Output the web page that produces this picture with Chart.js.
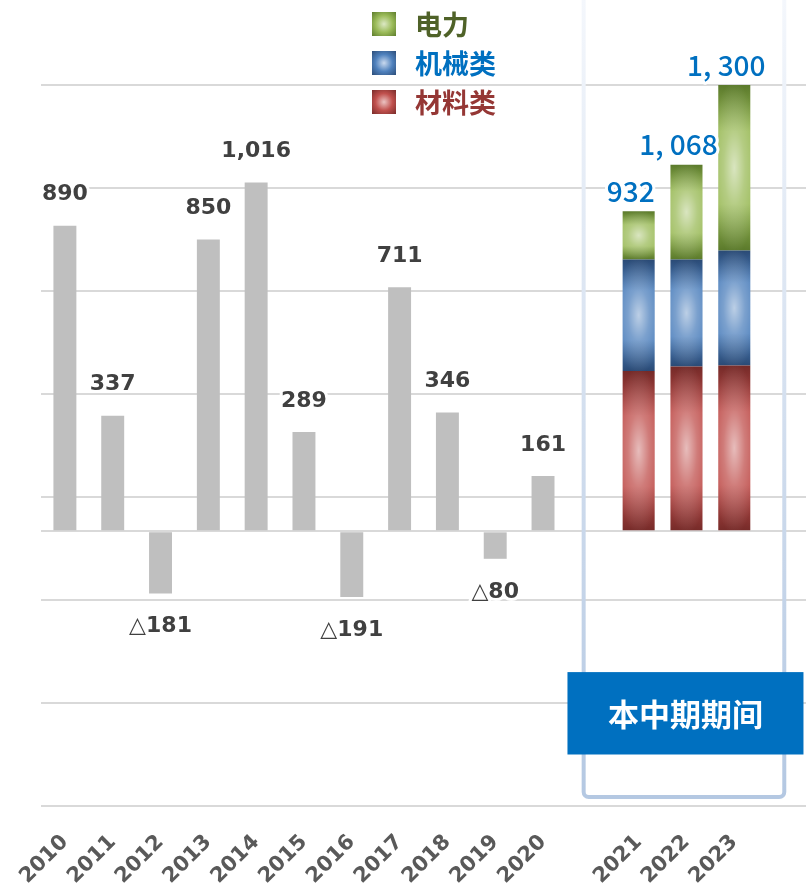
<!DOCTYPE html>
<html>
<head>
<meta charset="utf-8">
<script src="https://cdn.jsdelivr.net/npm/chart.js@4.4.1/dist/chart.umd.min.js"></script>
<style>
  html, body { margin: 0; padding: 0; background: #fff; }
</style>
</head>
<body>
<canvas id="grafico" width="806" height="891"></canvas>
<script>
const anios = ["2010", "2011", "2012", "2013", "2014", "2015", "2016", "2017", "2018", "2019", "2020", "", "2021", "2022", "2023", ""];
const resultados = [890, 337, -181, 850, 1016, 289, -191, 711, 346, -80, 161, null, null, null, null, null];
const materiales = [null, null, null, null, null, null, null, null, null, null, null, null, 467, 480, 483, null];
const maquinaria = [null, null, null, null, null, null, null, null, null, null, null, null, 325, 312, 335, null];
const energia = [null, null, null, null, null, null, null, null, null, null, null, null, 140, 276, 482, null];
const totales = [null, null, null, null, null, null, null, null, null, null, null, null, 932, 1068, 1300, null];
const marcasY = [-800, -500, -200, 0, 100, 400, 700, 1000, 1300];
const etiquetaPeriodo = "本中期期间";

const canvas = document.querySelector("#grafico");

const colores = {
  "电力": { base: "#9BBB59", oscuro: "#5B7A2B", claro: "#DCE8C4", texto: "#4F6228" },
  "机械类": { base: "#4F81BD", oscuro: "#2A4A75", claro: "#C9D9EE", texto: "#0070C0" },
  "材料类": { base: "#C0504D", oscuro: "#752A28", claro: "#EBC3C2", texto: "#953735" }
};

// suma de las series apiladas debajo de una serie
const apiladas = [materiales, maquinaria, energia];
const baseApilada = (serie, i) => {
  let suma = 0;
  for (const s of apiladas) {
    if (s === serie) break;
    suma += s[i] || 0;
  }
  return suma;
};

const degradado = (nombre, serie) => (ctx) => {
  const c = colores[nombre];
  if (ctx.type !== "data" || serie[ctx.dataIndex] == null) return c.base;
  const y = ctx.chart.scales.y;
  if (!y) return c.base;
  const ini = baseApilada(serie, ctx.dataIndex);
  const top = y.getPixelForValue(ini + serie[ctx.dataIndex]);
  const bot = y.getPixelForValue(ini);
  const g = ctx.chart.ctx.createLinearGradient(0, top, 0, bot);
  g.addColorStop(0, c.oscuro);
  g.addColorStop(0.28, c.base);
  g.addColorStop(0.72, c.base);
  g.addColorStop(1, c.oscuro);
  return g;
};

const formatoGris = (v) => Math.abs(v).toLocaleString("en-US");
const formatoTotal = (v) => v.toLocaleString("en-US").replace(",", ", ");

const textoConHalo = (ctx, texto, x, y) => {
  ctx.lineJoin = "round";
  ctx.lineWidth = 6;
  ctx.strokeStyle = "rgba(255,255,255,0.95)";
  ctx.strokeText(texto, x, y);
  ctx.fillText(texto, x, y);
};

const marcoPeriodo = {
  id: "marcoPeriodo",
  beforeDatasetsDraw(chart) {
    const { ctx, scales: { x }, chartArea } = chart;
    const izq = x.getPixelForValue(12) - 55;
    const der = x.getPixelForValue(14) + 50;
    const abajo = chartArea.bottom - 9;
    const g = ctx.createLinearGradient(0, 0, 0, abajo);
    g.addColorStop(0, "#F4F7FC");
    g.addColorStop(1, "#B4C8E2");
    ctx.save();
    ctx.strokeStyle = g;
    ctx.lineWidth = 4;
    ctx.beginPath();
    ctx.roundRect(izq, -10, der - izq, abajo + 10, 5);
    ctx.stroke();
    ctx.restore();
  },
  afterDraw(chart) {
    const { ctx, scales: { x, y } } = chart;
    const cx = x.getPixelForValue(13) - 1;
    const arriba = y.getPixelForValue(-410);
    const abajo = y.getPixelForValue(-650);
    ctx.save();
    ctx.fillStyle = "#0070C0";
    ctx.fillRect(cx - 118, arriba, 236, abajo - arriba);
    ctx.fillStyle = "#FFFFFF";
    ctx.font = "bold 31px 'Noto Sans CJK SC'";
    ctx.textAlign = "center";
    ctx.textBaseline = "middle";
    ctx.fillText(etiquetaPeriodo, cx, (arriba + abajo) / 2 + 1);
    ctx.restore();
  }
};

const brilloYEtiquetas = {
  id: "brilloYEtiquetas",
  afterDatasetsDraw(chart) {
    const ctx = chart.ctx;
    ctx.save();
    // brillo radial en las barras apiladas
    for (let d = 1; d <= 3; d++) {
      chart.getDatasetMeta(d).data.forEach((el, i) => {
        if (chart.data.datasets[d].data[i] == null) return;
        const { x, y, base, width } = el.getProps(["x", "y", "base", "width"], true);
        const top = Math.min(y, base), h = Math.abs(base - y);
        const cy = top + h / 2;
        ctx.save();
        ctx.beginPath();
        ctx.rect(x - width / 2, top, width, h);
        ctx.clip();
        ctx.translate(x, cy);
        ctx.scale(1, Math.max(h / width * 0.7, 0.7));
        const r = width * 0.75;
        const g = ctx.createRadialGradient(0, 0, 0, 0, 0, r);
        g.addColorStop(0, "rgba(255,255,255,0.62)");
        g.addColorStop(0.45, "rgba(255,255,255,0.25)");
        g.addColorStop(1, "rgba(255,255,255,0)");
        ctx.fillStyle = g;
        ctx.fillRect(-r, -r, 2 * r, 2 * r);
        ctx.restore();
      });
    }
    // valores de las barras grises
    ctx.textBaseline = "middle";
    ctx.fillStyle = "#404040";
    chart.getDatasetMeta(0).data.forEach((el, i) => {
      const v = resultados[i];
      if (v == null) return;
      const num = formatoGris(v);
      if (v >= 0) {
        ctx.font = "bold 22px 'DejaVu Sans'";
        ctx.textAlign = "center";
        textoConHalo(ctx, num, el.x, el.y - 31);
      } else {
        ctx.font = "22px 'DejaVu Sans'";
        const wTri = ctx.measureText("△").width;
        ctx.font = "bold 22px 'DejaVu Sans'";
        const wNum = ctx.measureText(num).width;
        const x0 = el.x - (wTri + wNum) / 2;
        ctx.textAlign = "left";
        ctx.font = "22px 'DejaVu Sans'";
        textoConHalo(ctx, "△", x0, el.y + 33);
        ctx.font = "bold 22px 'DejaVu Sans'";
        textoConHalo(ctx, num, x0 + wTri, el.y + 33);
      }
    });
    // totales del periodo
    ctx.textAlign = "center";
    ctx.fillStyle = "#0070C0";
    ctx.font = "500 28px 'Noto Sans CJK SC'";
    chart.getDatasetMeta(3).data.forEach((el, i) => {
      if (totales[i] == null) return;
      textoConHalo(ctx, formatoTotal(totales[i]), el.x - 8, el.y - 20);
    });
    ctx.restore();
  },
  afterDraw(chart) {
    // leyenda
    const ctx = chart.ctx;
    ctx.save();
    const items = [3, 2, 1].map((d) => chart.data.datasets[d].label);
    items.forEach((nombre, k) => {
      const c = colores[nombre];
      const sx = 372, sy = 12 + k * 39, s = 24;
      const g = ctx.createRadialGradient(sx + s / 2, sy + s / 2, 0, sx + s / 2, sy + s / 2, s * 0.72);
      g.addColorStop(0, c.claro);
      g.addColorStop(0.5, c.base);
      g.addColorStop(1, c.oscuro);
      ctx.fillStyle = g;
      ctx.fillRect(sx, sy, s, s);
      ctx.fillStyle = c.texto;
      ctx.font = "bold 27px 'Noto Sans CJK SC'";
      ctx.textAlign = "left";
      ctx.textBaseline = "middle";
      ctx.fillText(nombre, 415, sy + s / 2 + 1);
    });
    ctx.restore();
  }
};

const datasets = [
  {
    label: "实绩",
    data: resultados,
    backgroundColor: "#BFBFBF",
    barPercentage: 0.48,
    categoryPercentage: 1
  },
  {
    label: "材料类",
    data: materiales,
    backgroundColor: degradado("材料类", materiales),
    barPercentage: 0.67,
    categoryPercentage: 1
  },
  {
    label: "机械类",
    data: maquinaria,
    backgroundColor: degradado("机械类", maquinaria),
    barPercentage: 0.67,
    categoryPercentage: 1
  },
  {
    label: "电力",
    data: energia,
    backgroundColor: degradado("电力", energia),
    barPercentage: 0.67,
    categoryPercentage: 1
  }
];

const config = {
  type: "bar",
  data: { labels: anios, datasets },
  options: {
    responsive: false,
    animation: false,
    events: [],
    layout: { padding: { top: 85, left: 0, right: 0, bottom: 0 } },
    plugins: { legend: { display: false }, tooltip: { enabled: false } },
    scales: {
      x: {
        stacked: true,
        grid: { display: false },
        border: { display: false },
        ticks: {
          autoSkip: false,
          maxRotation: 45,
          minRotation: 45,
          color: "#595959",
          padding: 16,
          font: { family: "DejaVu Sans", weight: "bold", size: 21 }
        },
        afterFit: (s) => {
          s.height = 85;
          s.paddingLeft = 0;
          s.paddingRight = 0;
        }
      },
      y: {
        stacked: true,
        min: -800,
        max: 1300,
        border: { display: false },
        grid: { color: "#D9D9D9", lineWidth: 2, drawTicks: false },
        ticks: { display: false },
        afterBuildTicks: (s) => { s.ticks = marcasY.map((v) => ({ value: v })); },
        afterFit: (s) => { s.width = 41; }
      }
    }
  },
  plugins: [marcoPeriodo, brilloYEtiquetas]
};

const myChart = new Chart(canvas, config);
</script>
</body>
</html>
